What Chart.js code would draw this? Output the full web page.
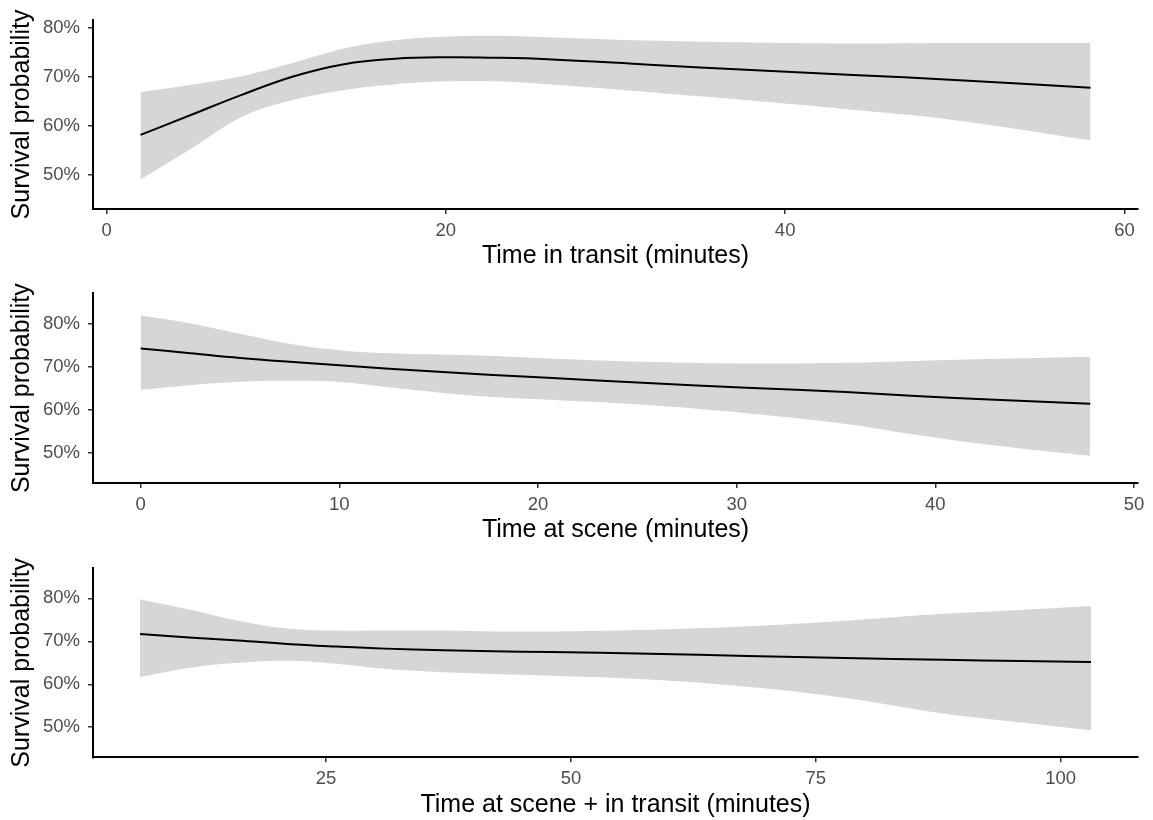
<!DOCTYPE html>
<html>
<head>
<meta charset="utf-8">
<script src="https://cdn.jsdelivr.net/npm/chart.js@4.4.0/dist/chart.umd.min.js"></script>
<style>
  body { margin: 0; background: #fff; }
  #wrap { position: relative; width: 1153px; height: 820px; }
  canvas { position: absolute; left: 0; }
</style>
</head>
<body>
<div id="wrap">
  <canvas id="transitChart" width="1153" height="272" style="top:0px"></canvas>
  <canvas id="sceneChart" width="1153" height="272" style="top:272px"></canvas>
  <canvas id="totalChart" width="1153" height="276" style="top:544px"></canvas>
</div>
<script>
// ===============================
// DATA
// ===============================
const yTicks = [50, 60, 70, 80];

// time in transit
const transitX     = [2, 5, 8, 11, 14, 17, 20, 23, 26, 32, 38, 44, 50, 58];
const transitFit   = [58.2, 62.3, 66.4, 70.1, 72.6, 73.7, 74.0, 73.9, 73.6, 72.5, 71.4, 70.4, 69.4, 67.8];
const transitUpper = [66.9, 68.4, 70.2, 72.9, 75.8, 77.5, 78.2, 78.4, 78.1, 77.4, 77.0, 76.8, 76.9, 76.9];
const transitLower = [49.1, 55.4, 61.9, 65.3, 67.3, 68.5, 69.1, 69.1, 68.5, 66.9, 65.2, 63.3, 61.2, 57.1];
const transitTicks = [0, 20, 40, 60];

// time at scene
const sceneX     = [0, 2.5, 5, 7.5, 10, 12.5, 15, 17.5, 20.5, 25.5, 30.5, 35.5, 39, 43, 47.8];
const sceneFit   = [74.2, 73.1, 72.0, 71.1, 70.3, 69.5, 68.8, 68.1, 67.4, 66.2, 65.1, 64.1, 63.2, 62.3, 61.4];
const sceneUpper = [81.9, 80.0, 77.6, 75.3, 73.8, 73.1, 72.8, 72.5, 71.9, 71.1, 70.7, 70.9, 71.3, 71.8, 72.3];
const sceneLower = [64.6, 65.7, 66.5, 66.7, 66.4, 65.2, 64.0, 63.0, 62.3, 61.1, 59.2, 56.7, 54.2, 51.7, 49.3];
const sceneTicks = [0, 10, 20, 30, 40, 50];

// time at scene + in transit
const totalX     = [6, 11, 16, 21, 26, 31, 37, 42, 48, 58, 68, 78, 88, 96, 103.1];
const totalFit   = [71.7, 70.9, 70.2, 69.4, 68.8, 68.3, 67.9, 67.7, 67.5, 67.1, 66.6, 66.1, 65.7, 65.4, 65.2];
const totalUpper = [79.8, 77.4, 74.8, 73.0, 72.5, 72.5, 72.5, 72.3, 72.3, 72.7, 73.5, 74.8, 76.4, 77.3, 78.2];
const totalLower = [61.7, 63.8, 65.0, 65.5, 64.8, 63.6, 62.8, 62.4, 62.0, 61.1, 59.4, 56.8, 53.2, 51.1, 49.3];
const totalTicks = [25, 50, 75, 100];

// ===============================
// STYLE
// ===============================
Chart.defaults.font.family = "'Liberation Sans', Arial, sans-serif";
const BAND = "rgb(214,214,214)";
const TICK_FONT = { size: 18.5 };
const TITLE_FONT = { size: 25, lineHeight: 1.0 };
const SMOOTH = 0.4;

function pts(xs, ys) {
  return xs.map((x, i) => ({ x: x, y: ys[i] }));
}

// ===============================
// ONE PANEL
// ===============================
function makePanel(id, opt) {
  const canvas = document.getElementById(id);
  const H = canvas.height;

  new Chart(canvas.getContext("2d"), {
    type: "line",
    data: {
      datasets: [
        {
          data: pts(opt.x, opt.fit),
          borderColor: "#000",
          borderWidth: 2,
          pointRadius: 0,
          tension: SMOOTH,
          fill: false,
        },
        {
          data: pts(opt.x, opt.lower),
          borderWidth: 0,
          borderColor: "rgba(0,0,0,0)",
          pointRadius: 0,
          tension: SMOOTH,
          fill: false,
        },
        {
          data: pts(opt.x, opt.upper),
          borderWidth: 0,
          borderColor: "rgba(0,0,0,0)",
          backgroundColor: BAND,
          pointRadius: 0,
          tension: SMOOTH,
          fill: "-1",
        },
      ],
    },
    options: {
      responsive: false,
      animation: false,
      devicePixelRatio: 1,
      layout: { padding: { top: opt.areaTop, right: 15, left: 0, bottom: 0 } },
      plugins: { legend: { display: false }, tooltip: { enabled: false } },
      scales: {
        x: {
          type: "linear",
          min: opt.xMin,
          max: opt.xMax,
          afterBuildTicks: (s) => { s.ticks = opt.ticks.map((v) => ({ value: v })); },
          afterFit: (s) => {
            s.height = H - opt.areaBottom;
            s.paddingLeft = 0;
            s.paddingRight = 0;
          },
          border: { display: true, color: "#000", width: 2 },
          grid: { drawOnChartArea: false, drawTicks: true, tickLength: 5, color: "#333", lineWidth: 1.5 },
          ticks: { color: "#4d4d4d", font: TICK_FONT, padding: 6, maxRotation: 0 },
          title: {
            display: true,
            text: opt.title,
            color: "#000",
            font: TITLE_FONT,
            padding: { top: 0, bottom: opt.titlePad },
          },
        },
        y: {
          min: opt.yMin,
          max: opt.yMax,
          afterBuildTicks: (s) => { s.ticks = yTicks.map((v) => ({ value: v })); },
          afterFit: (s) => {
            s.width = 93;
            s.paddingTop = 0;
            s.paddingBottom = 0;
          },
          border: { display: true, color: "#000", width: 2 },
          grid: { drawOnChartArea: false, drawTicks: true, tickLength: 5, color: "#333", lineWidth: 1.5 },
          ticks: {
            color: "#4d4d4d",
            font: TICK_FONT,
            padding: 8,
            callback: (v) => v + "%",
          },
          title: {
            display: true,
            text: "Survival probability",
            color: "#000",
            font: TITLE_FONT,
            padding: { top: 10, bottom: 0 },
          },
        },
      },
    },
  });
}

makePanel("transitChart", {
  x: transitX, fit: transitFit, upper: transitUpper, lower: transitLower, ticks: transitTicks,
  title: "Time in transit (minutes)",
  xMin: -0.8, xMax: 60.8, yMin: 43.1, yMax: 81.6,
  areaTop: 20, areaBottom: 209, titlePad: 3.5,
});

makePanel("sceneChart", {
  x: sceneX, fit: sceneFit, upper: sceneUpper, lower: sceneLower, ticks: sceneTicks,
  title: "Time at scene (minutes)",
  xMin: -2.4, xMax: 50.2, yMin: 43, yMax: 87,
  areaTop: 21.3, areaBottom: 211, titlePad: 1.5,
});

makePanel("totalChart", {
  x: totalX, fit: totalFit, upper: totalUpper, lower: totalLower, ticks: totalTicks,
  title: "Time at scene + in transit (minutes)",
  xMin: 1.2, xMax: 107.9, yMin: 43, yMax: 87,
  areaTop: 24.3, areaBottom: 213.3, titlePad: 2.7,
});
</script>
</body>
</html>
